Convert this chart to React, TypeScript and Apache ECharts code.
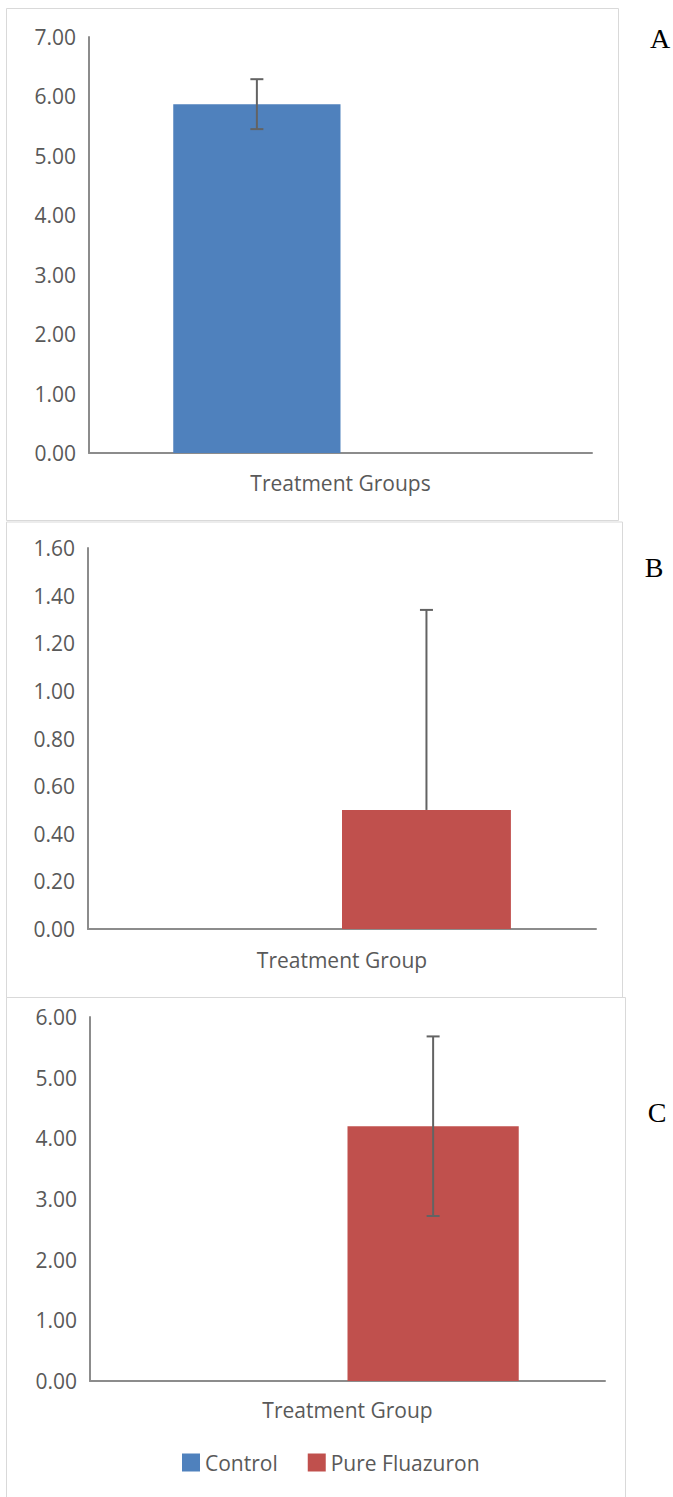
import React, { useEffect, useRef } from "react";
import * as echarts from "echarts";

// ---- Data ----
const seriesNames = ["Control", "Pure Fluazuron"];
const categoriesA = ["Treatment Groups"];
const categoriesB = ["Treatment Group"];
const categoriesC = ["Treatment Group"];

// Panel A
const controlA = [5.87];
const controlErrPlusA = [0.42];
const controlErrMinusA = [0.42];
// Panel B
const fluazuronB = [0.5];
const fluazuronErrPlusB = [0.84];
const fluazuronErrMinusB = [0];
// Panel C
const fluazuronC = [4.2];
const fluazuronErrPlusC = [1.48];
const fluazuronErrMinusC = [1.48];

const yMaxA = 7;
const yStepA = 1;
const yMaxB = 1.6;
const yStepB = 0.2;
const yMaxC = 6;
const yStepC = 1;

const panelLetters = ["A", "B", "C"];

const BLUE = "#4F81BD";
const RED = "#C0504D";
const TXT = "#595959";
const AXIS = "#8C8C8C";
const ERR = "#636363";
const FONT = "'Open Sans', sans-serif";
const FS = 21;
const CAT_GAP = 0.335;

export default function App() {
  const ref = useRef<HTMLDivElement>(null);

  useEffect(() => {
    if (!ref.current) return;
    const chart = echarts.init(ref.current, null, { renderer: "svg" });

    const grids = [
      { left: 89, top: 37, width: 503, height: 416 },
      { left: 88, top: 548, width: 508, height: 381 },
      { left: 90, top: 1017, width: 515, height: 364 },
    ];
    const cats = [categoriesA, categoriesB, categoriesC];
    const maxes = [yMaxA, yMaxB, yMaxC];
    const steps = [yStepA, yStepB, yStepC];
    const labelMargins = [19, 20, 18];

    const xAxis = grids.map((_, i) => ({
      type: "category",
      gridIndex: i,
      data: cats[i],
      axisLine: { show: true, lineStyle: { color: AXIS, width: 2 } },
      axisTick: { show: false },
      axisLabel: { color: TXT, fontFamily: FONT, fontSize: FS, margin: labelMargins[i] },
      splitLine: { show: false },
    }));
    const yAxis = grids.map((_, i) => ({
      type: "value",
      gridIndex: i,
      min: 0,
      max: maxes[i],
      interval: steps[i],
      axisLine: { show: true, lineStyle: { color: AXIS, width: 2 } },
      axisTick: { show: false },
      axisLabel: {
        color: TXT,
        fontFamily: FONT,
        fontSize: FS,
        margin: 13,
        formatter: (v: number) => v.toFixed(2),
      },
      splitLine: { show: false },
    }));

    const barSeries = (gi: number, control: any[], fluaz: any[]) => [
      {
        type: "bar",
        name: seriesNames[0],
        xAxisIndex: gi,
        yAxisIndex: gi,
        data: control,
        barGap: "0%",
        barCategoryGap: CAT_GAP * 100 + "%",
        itemStyle: { color: BLUE },
      },
      {
        type: "bar",
        name: seriesNames[1],
        xAxisIndex: gi,
        yAxisIndex: gi,
        data: fluaz,
        barGap: "0%",
        barCategoryGap: CAT_GAP * 100 + "%",
        itemStyle: { color: RED },
      },
    ];

    const errSeries = (gi: number, slot: number, vals: number[], plus: number[], minus: number[]) => ({
      type: "custom",
      xAxisIndex: gi,
      yAxisIndex: gi,
      z: 10,
      clip: false,
      data: vals.map((v, k) => [k, v - minus[k], v + plus[k], v]),
      renderItem: (params: any, api: any) => {
        const idx = api.value(0);
        const lo = api.value(1);
        const hi = api.value(2);
        const mid = api.value(3);
        const bw = api.size([1, 0])[0];
        const off = ((slot === 0 ? -1 : 1) * bw * (1 - CAT_GAP)) / 4;
        const pHi = api.coord([idx, hi]);
        const pLo = api.coord([idx, lo]);
        const x = pHi[0] + off;
        const half = 6.5;
        const style = { stroke: ERR, lineWidth: 2 };
        const children: any[] = [
          { type: "line", shape: { x1: x, y1: pHi[1], x2: x, y2: pLo[1] }, style },
          { type: "line", shape: { x1: x - half, y1: pHi[1], x2: x + half, y2: pHi[1] }, style },
        ];
        if (lo < mid) {
          children.push({ type: "line", shape: { x1: x - half, y1: pLo[1], x2: x + half, y2: pLo[1] }, style });
        }
        return { type: "group", children };
      },
    });

    const frames = [
      { x: 6, y: 8, w: 612, h: 512 },
      { x: 6, y: 521.5, w: 616, h: 475.5 },
      { x: 6, y: 997, w: 619, h: 520 },
    ];
    const letterPos = [
      { x: 660, y: 38 },
      { x: 654, y: 567 },
      { x: 657, y: 1112 },
    ];

    const option: any = {
      animation: false,
      backgroundColor: "#ffffff",
      grid: grids.map((g) => ({ ...g, containLabel: false })),
      xAxis,
      yAxis,
      legend: {
        data: seriesNames,
        left: 182,
        top: 1452,
        itemWidth: 18,
        itemHeight: 18,
        itemGap: 30,
        icon: "rect",
        textStyle: { color: TXT, fontFamily: FONT, fontSize: FS, padding: [0, 0, 0, 0] },
        padding: 0,
      },
      graphic: [
        ...frames.map((f) => ({
          type: "rect",
          silent: true,
          z: -10,
          shape: { x: f.x + 0.5, y: f.y + 0.5, width: f.w, height: f.h },
          style: { fill: "none", stroke: "#D9D9D9", lineWidth: 1 },
        })),
        ...letterPos.map((p, i) => ({
          type: "text",
          x: p.x,
          y: p.y,
          style: {
            text: panelLetters[i],
            fill: "#000000",
            font: "28px 'Liberation Serif', 'Times New Roman', serif",
            align: "center",
            verticalAlign: "middle",
          },
        })),
      ],
      series: [
        ...barSeries(0, controlA, ["-"]),
        ...barSeries(1, ["-"], fluazuronB),
        ...barSeries(2, ["-"], fluazuronC),
        errSeries(0, 0, controlA, controlErrPlusA, controlErrMinusA),
        errSeries(1, 1, fluazuronB, fluazuronErrPlusB, fluazuronErrMinusB),
        errSeries(2, 1, fluazuronC, fluazuronErrPlusC, fluazuronErrMinusC),
      ],
    };
    chart.setOption(option);
    return () => chart.dispose();
  }, []);

  return (
    <div
      ref={ref}
      style={{ position: "absolute", left: 0, top: 0, width: 673, height: 1497, background: "#fff" }}
    />
  );
}
